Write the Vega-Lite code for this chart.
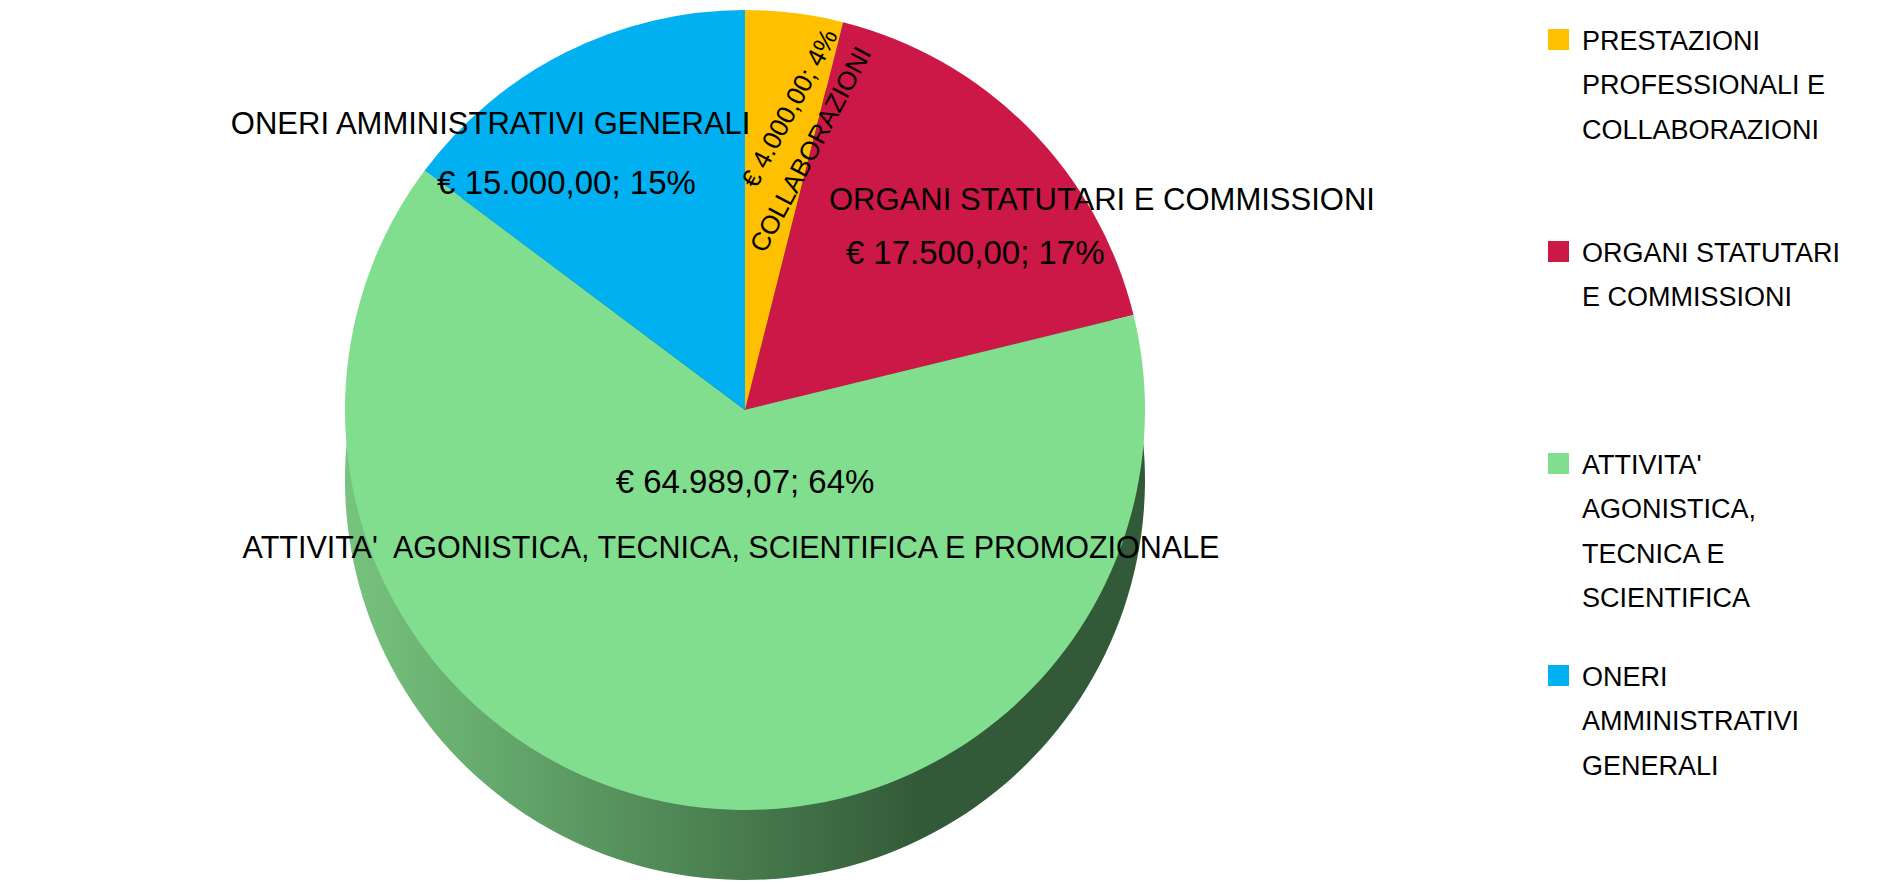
{
  "$schema": "https://vega.github.io/schema/vega-lite/v6.json",
  "width": 1490,
  "height": 820,
  "padding": 0,
  "autosize": {"type": "pad"},
  "background": "white",
  "config": {
    "view": {"stroke": null},
    "font": "Liberation Sans",
    "style": {"guide-label": {"lineHeight": 44.5, "dy": 10}}
  },
  "data": {
    "values": [
      {"idx": 1, "legend": "PRESTAZIONI|PROFESSIONALI E|COLLABORAZIONI", "value": 4000, "name": "COLLABORAZIONI", "amount": "€ 4.000,00; 4%", "lines": ["€ 4.000,00; 4%", "COLLABORAZIONI"]},
      {"idx": 2, "legend": "ORGANI STATUTARI|E COMMISSIONI", "value": 17500, "name": "ORGANI STATUTARI E COMMISSIONI", "amount": "€ 17.500,00; 17%"},
      {"idx": 3, "legend": "ATTIVITA'|AGONISTICA,|TECNICA E|SCIENTIFICA", "value": 64989.07, "name": "ATTIVITA'\u00a0 AGONISTICA, TECNICA, SCIENTIFICA E PROMOZIONALE", "amount": "€ 64.989,07; 64%"},
      {"idx": 4, "legend": "ONERI|AMMINISTRATIVI|GENERALI", "value": 15000, "name": "ONERI AMMINISTRATIVI GENERALI", "amount": "€ 15.000,00; 15%"}
    ]
  },
  "encoding": {
    "theta": {"field": "value", "type": "quantitative", "stack": true},
    "order": {"field": "idx", "type": "quantitative"}
  },
  "layer": [
    {
      "mark": {
        "type": "arc",
        "radius": 400,
        "yOffset": 70,
        "fill": {
          "gradient": "linear",
          "x1": 0, "y1": 0, "x2": 1, "y2": 0,
          "stops": [
            {"offset": 0, "color": "#76c47e"},
            {"offset": 0.72, "color": "#335a38"},
            {"offset": 1, "color": "#335a38"}
          ]
        }
      },
      "encoding": {"detail": {"field": "legend", "type": "nominal"}}
    },
    {
      "mark": {"type": "arc", "radius": 400},
      "encoding": {
        "color": {
          "field": "legend",
          "type": "nominal",
          "scale": {
            "domain": ["PRESTAZIONI|PROFESSIONALI E|COLLABORAZIONI", "ORGANI STATUTARI|E COMMISSIONI", "ATTIVITA'|AGONISTICA,|TECNICA E|SCIENTIFICA", "ONERI|AMMINISTRATIVI|GENERALI"],
            "range": ["#FFC000", "#CC1846", "#80DE8E", "#00B0F0"]
          },
          "legend": {
            "orient": "none",
            "legendX": 1545,
            "legendY": 26,
            "title": null,
            "labelExpr": "split(datum.label, '|')",
            "symbolType": "square",
            "symbolSize": 441,
            "symbolStrokeWidth": 0,
            "symbolOpacity": 1,
            "labelFontSize": 27,
            "labelFont": "Liberation Sans",
            "labelColor": "#000000",
            "labelBaseline": "alphabetic",
            "gridAlign": "all",
            "rowPadding": 50,
            "labelOffset": 10,
            "labelLimit": 400,
            "padding": 0,
            "columns": 1
          }
        }
      }
    },
    {
      "mark": {"type": "text", "radius": 380, "dx": 20, "dy": 34, "angle": 298, "align": "right", "baseline": "middle", "fontSize": 26, "lineHeight": 38, "color": "#000000"},
      "encoding": {
        "detail": {"field": "legend", "type": "nominal"},
        "text": {"condition": {"test": "datum.idx === 1", "field": "lines"}, "value": ""}
      }
    },
    {
      "mark": {"type": "text", "radius": 300, "dx": 144, "dy": 2, "align": "center", "baseline": "middle", "fontSize": 31, "color": "#000000"},
      "encoding": {
        "detail": {"field": "legend", "type": "nominal"},
        "text": {"condition": {"test": "datum.idx === 2", "field": "name"}, "value": ""}
      }
    },
    {
      "mark": {"type": "text", "radius": 220, "dx": 74, "dy": -1, "align": "center", "baseline": "middle", "fontSize": 33, "color": "#000000"},
      "encoding": {
        "detail": {"field": "legend", "type": "nominal"},
        "text": {"condition": {"test": "datum.idx === 2", "field": "amount"}, "value": ""}
      }
    },
    {
      "mark": {"type": "text", "radius": 80, "dx": 16, "dy": -5, "align": "center", "baseline": "middle", "fontSize": 33, "color": "#000000"},
      "encoding": {
        "detail": {"field": "legend", "type": "nominal"},
        "text": {"condition": {"test": "datum.idx === 3", "field": "amount"}, "value": ""}
      }
    },
    {
      "mark": {"type": "text", "radius": 150, "dx": 16, "dy": -8, "align": "center", "baseline": "middle", "fontSize": 30.5, "color": "#000000"},
      "encoding": {
        "detail": {"field": "legend", "type": "nominal"},
        "text": {"condition": {"test": "datum.idx === 3", "field": "name"}, "value": ""}
      }
    },
    {
      "mark": {"type": "text", "radius": 300, "dx": -120, "dy": -17, "align": "center", "baseline": "middle", "fontSize": 31, "color": "#000000"},
      "encoding": {
        "detail": {"field": "legend", "type": "nominal"},
        "text": {"condition": {"test": "datum.idx === 4", "field": "name"}, "value": ""}
      }
    },
    {
      "mark": {"type": "text", "radius": 220, "dx": -80, "dy": -29, "align": "center", "baseline": "middle", "fontSize": 33, "color": "#000000"},
      "encoding": {
        "detail": {"field": "legend", "type": "nominal"},
        "text": {"condition": {"test": "datum.idx === 4", "field": "amount"}, "value": ""}
      }
    }
  ]
}
